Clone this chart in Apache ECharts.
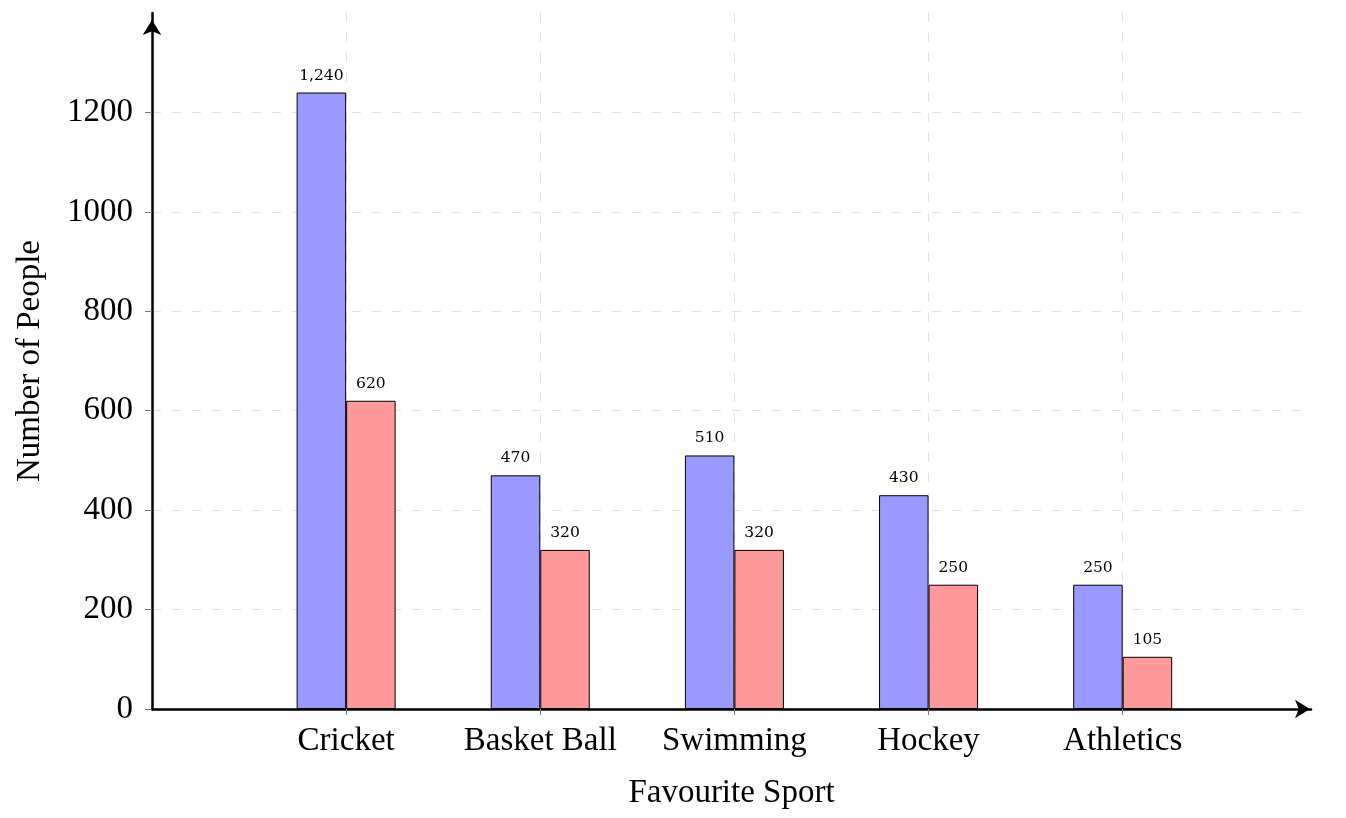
<!DOCTYPE html>
<html>
<head>
<meta charset="utf-8">
<script src="https://cdn.jsdelivr.net/npm/echarts@6/dist/echarts.min.js"></script>
<style>
html,body{margin:0;padding:0;background:#fff;}
#chart{width:1346px;height:818px;}
</style>
</head>
<body>
<div id="chart"></div>
<script>
const categories = ['Cricket', 'Basket Ball', 'Swimming', 'Hockey', 'Athletics'];
const seriesBlue = [1240, 470, 510, 430, 250];
const seriesRed = [620, 320, 320, 250, 105];
const yTicks = [0, 200, 400, 600, 800, 1000, 1200];
const xTickIndex = [0, 1, 2, 3, 4];

const chart = echarts.init(document.getElementById('chart'));
const serif = 'Liberation Serif';
const labelStyle = {
  show: true,
  position: 'top',
  distance: 9,
  fontFamily: 'DejaVu Serif',
  fontSize: 15.5,
  color: '#000',
  formatter: p => p.value[1].toLocaleString('en-US')
};
chart.setOption({
  animation: false,
  grid: { left: 152, right: 35, top: 13, bottom: 109, containLabel: false },
  xAxis: {
    type: 'value',
    min: -1,
    max: 4.97,
    interval: 1,
    name: 'Favourite Sport',
    nameLocation: 'middle',
    nameGap: 68,
    nameTextStyle: { fontFamily: serif, fontSize: 33, color: '#000' },
    axisLine: {
      show: true, onZero: false,
      lineStyle: { color: '#000', width: 2.5 },
      symbol: ['none', 'arrow'], symbolSize: [14, 15], symbolOffset: [0, -1]
    },
    axisTick: { show: true, length: 6, customValues: xTickIndex, lineStyle: { color: '#777', width: 1 } },
    axisLabel: {
      customValues: xTickIndex,
      margin: 16,
      fontFamily: serif, fontSize: 33, color: '#000',
      formatter: v => categories[Math.round(v)] || ''
    },
    splitLine: {
      show: true, showMinLine: true, showMaxLine: true,
      lineStyle: { color: '#e2e2e2', width: 1, type: [9, 11] }
    }
  },
  yAxis: {
    type: 'value',
    min: 0,
    max: 1400,
    interval: 200,
    name: 'Number of People',
    nameLocation: 'middle',
    nameGap: 105,
    nameTextStyle: { fontFamily: serif, fontSize: 33, color: '#000' },
    axisLine: {
      show: true, onZero: false,
      lineStyle: { color: '#000', width: 2.5 },
      symbol: ['none', 'arrow'], symbolSize: [14, 15], symbolOffset: [0, -7]
    },
    axisTick: { show: true, length: 7, customValues: yTicks, lineStyle: { color: '#777', width: 1 } },
    axisLabel: {
      customValues: yTicks,
      margin: 19,
      fontFamily: serif, fontSize: 33, color: '#000',
      formatter: v => String(v)
    },
    splitLine: {
      show: true, showMinLine: false, showMaxLine: true,
      lineStyle: { color: '#e2e2e2', width: 1, type: [9, 11] }
    }
  },
  series: [
    {
      type: 'bar',
      data: seriesBlue.map((v, i) => [i, v]),
      barWidth: 49.5,
      barGap: '0%',
      itemStyle: { color: '#9999ff', borderColor: '#000', borderWidth: 1 },
      label: labelStyle,
      z: 3
    },
    {
      type: 'bar',
      data: seriesRed.map((v, i) => [i, v]),
      barWidth: 49.5,
      barGap: '0%',
      itemStyle: { color: '#ff9999', borderColor: '#000', borderWidth: 1 },
      label: labelStyle,
      z: 3
    }
  ]
});
</script>
</body>
</html>
